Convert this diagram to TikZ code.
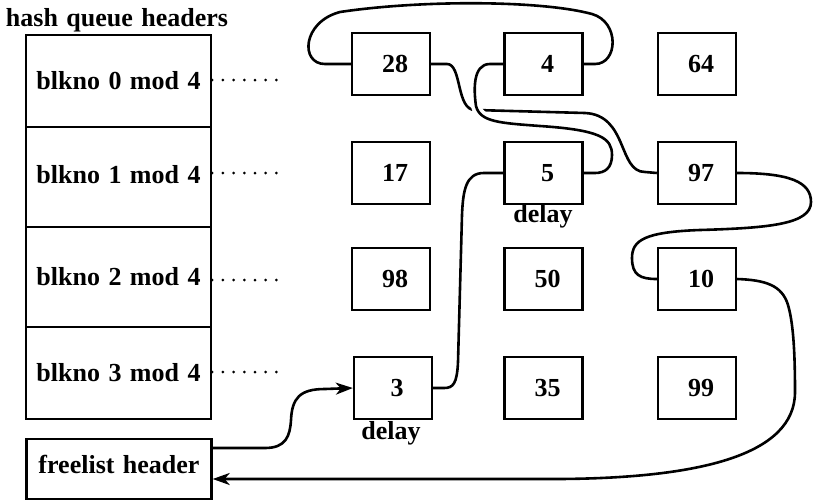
\documentclass[tikz,border=0pt]{standalone}
\usepackage{fontspec}
\setmainfont{Liberation Serif}[WordSpace=1.3]
\usetikzlibrary{arrows.meta}
\begin{document}
\begin{tikzpicture}[x=1pt,y=-1pt,
  every node/.style={font=\fontsize{26}{30}\selectfont\bfseries},
  hq/.style={draw, line width=2.4pt, minimum width=185pt, inner sep=0pt},
  buf/.style={draw, line width=2.4pt, minimum width=78pt, minimum height=62pt, inner sep=0pt, execute at begin node={\hspace*{8pt}}},
  conn/.style={line width=2.6pt},
  dots/.style={line width=3pt, line cap=round, dash pattern=on 0pt off 10.7pt},
  tip/.style={-{Stealth[length=17pt,width=12pt,inset=5pt]}},
  gap/.style={preaction={draw=white, line width=10pt, shorten <=6pt, shorten >=6pt}}
]
\useasboundingbox (0,0) rectangle (815,501);

% hash queue headers
\node[anchor=base] (title) at (117,26) {hash queue headers};
\node[hq, minimum height=92pt]  (hq0) at (118.5,81)  {blkno 0 mod 4};
\node[hq, minimum height=100pt] (hq1) at (118.5,177) {\raisebox{5pt}{blkno 1 mod 4}};
\node[hq, minimum height=100pt] (hq2) at (118.5,277) {\raisebox{-3pt}{blkno 2 mod 4}};
\node[hq, minimum height=92pt]  (hq3) at (118.5,373) {blkno 3 mod 4};
\node[hq, minimum height=60pt]  (free) at (119,469) {\raisebox{9pt}{freelist header}};

% dotted leaders
\coordinate (e0) at (278.2,80);
\coordinate (e1) at (278.2,173);
\coordinate (e2) at (278.2,280);
\coordinate (e3) at (278.2,372);
\draw[dots] (hq0.east |- e0) -- (e0);
\draw[dots] (hq1.east |- e1) -- (e1);
\draw[dots] (hq2.east |- e2) -- (e2);
\draw[dots] (hq3.east |- e3) -- (e3);

% buffers
\node[buf] (b28) at (391,64)    {28};
\node[buf] (b4)  at (543.5,64)  {4};
\node[buf] (b64) at (697,64)    {64};
\node[buf] (b17) at (391,173)   {17};
\node[buf] (b5)  at (543.5,173) {5};
\node[buf] (b97) at (697,173)   {97};
\node[buf] (b98) at (391,279)   {98};
\node[buf] (b50) at (543.5,279) {50};
\node[buf] (b10) at (697,279)   {10};
\node[buf] (b3)  at (393,388)   {3};
\node[buf] (b35) at (543.5,388) {35};
\node[buf] (b99) at (697,388)   {99};

\node (delay5) at (543,216) {delay};
\node (delay3) at (391,433) {delay};

% free list links
\draw[conn] (b28.west) -- (325,64) .. controls (300,64) and (302,22) .. (340,12)
  .. controls (420,0) and (540,0) .. (592,14)
  .. controls (620,22) and (618,64) .. (595,64) -- (b4.east);
\draw[conn] (b28.east) -- (447,64) .. controls (462,64) and (456,110) .. (475,110)
  -- (585,113) .. controls (628,115) and (618,172) .. (645,172) -- (b97.west);
\draw[conn, gap] (b4.west) -- (490,64) .. controls (472,64) and (474,92) .. (476,106)
  .. controls (480,122) and (500,123) .. (540,126)
  .. controls (600,130) and (612,138) .. (612,155)
  .. controls (612,168) and (605,173) .. (595,173) -- (b5.east);
\draw[conn] (b5.west) -- (484,173) .. controls (466,173) and (463,190) .. (462,215)
  -- (458,362) .. controls (457,384) and (453,388) .. (444,388) -- (b3.east);
\draw[conn] (b97.east) .. controls (790,173) and (811,182) .. (811,202)
  .. controls (811,224) and (770,228) .. (700,230)
  .. controls (645,232) and (632,240) .. (632,258)
  .. controls (632,275) and (640,279) .. (b10.west);
\draw[conn, tip] (b10.east) .. controls (765,280) and (782,285) .. (788,305)
  .. controls (794,325) and (795,360) .. (795,392)
  .. controls (795,455) and (700,478) .. (560,479) -- ([yshift=-10pt]free.east);
\draw[conn, tip] ([yshift=21pt]free.east) -- (265,448)
  .. controls (286,448) and (290,436) .. (291,420)
  .. controls (292,398) and (300,389) .. (325,389) -- (b3.west);
\end{tikzpicture}
\end{document}
